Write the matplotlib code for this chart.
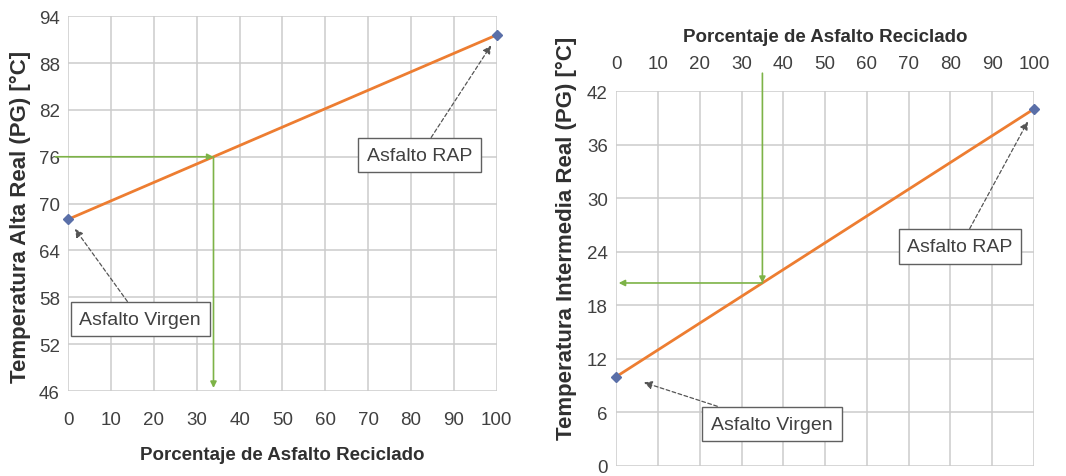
import matplotlib.pyplot as plt

plt.rcParams["font.family"] = ["Liberation Sans Narrow", "Liberation Sans", "DejaVu Sans"]

# left chart: high temperature
pct = [0, 100]
temp_alta = [68.0, 91.6]
alta_ticks = [46, 52, 58, 64, 70, 76, 82, 88, 94]
alta_target = 76
alta_pct = 33.9

# right chart: intermediate temperature
temp_inter = [10.0, 40.0]
inter_ticks = [0, 6, 12, 18, 24, 30, 36, 42]
inter_pct = 35
inter_target = 20.5

x_ticks = list(range(0, 101, 10))

ORANGE = "#ED7D31"
BLUE = "#5A6FA8"
GREEN = "#7DB347"
GRID = "#CCCCCC"
TXT = "#404040"

fig = plt.figure(figsize=(10.66, 4.77), dpi=100)
ax1 = fig.add_axes([0.064, 0.178, 0.402, 0.786])
ax2 = fig.add_axes([0.578, 0.021, 0.392, 0.786])


def style(ax, yticks, xpad):
    ax.set_xlim(0, 100)
    ax.set_ylim(yticks[0], yticks[-1])
    ax.set_xticks(x_ticks)
    ax.set_yticks(yticks)
    ax.grid(True, color=GRID, linewidth=1.1)
    for s in ax.spines.values():
        s.set_visible(False)
    ax.tick_params(length=0, labelsize=13.5, colors=TXT)
    ax.tick_params(axis="y", pad=6)
    ax.tick_params(axis="x", pad=xpad)
    ax.set_axisbelow(True)


box = dict(boxstyle="square,pad=0.45", fc="white", ec="#606060", lw=1)
arr = dict(arrowstyle="-|>", color="#555555", lw=0.9, ls=(0, (3, 2)),
           mutation_scale=12, shrinkA=0, shrinkB=3)
garr = dict(arrowstyle="-|>", color=GREEN, lw=1.2, mutation_scale=9, shrinkA=0, shrinkB=0)
lab = dict(fontweight="bold", color="#303030")

# left
style(ax1, alta_ticks, 14)
ax1.plot(pct, temp_alta, color=ORANGE, lw=2, zorder=3)
ax1.plot(pct, temp_alta, "D", color=BLUE, ms=5, zorder=4, clip_on=False)
ax1.annotate("", xy=(alta_pct, alta_target), xytext=(-3, alta_target),
             arrowprops=garr, annotation_clip=False)
ax1.annotate("", xy=(alta_pct, alta_ticks[0] + 0.4), xytext=(alta_pct, alta_target),
             arrowprops=garr)
ax1.annotate("Asfalto RAP", xy=(99.2, 90.7), xytext=(82, 76.2), ha="center", va="center",
             fontsize=14, color=TXT, bbox=box, arrowprops=arr)
ax1.annotate("Asfalto Virgen", xy=(1, 67.2), xytext=(16.8, 55.2), ha="center", va="center",
             fontsize=14, color=TXT, bbox=box, arrowprops=arr)
ax1.set_xlabel("Porcentaje de Asfalto Reciclado", fontsize=13.5, labelpad=13, **lab)
ax1.set_ylabel("Temperatura Alta Real (PG) [°C]", fontsize=16, **lab)
ax1.yaxis.set_label_coords(-0.086, 0.467)

# right
style(ax2, inter_ticks, 14)
ax2.xaxis.tick_top()
ax2.xaxis.set_label_position("top")
ax2.plot(pct, temp_inter, color=ORANGE, lw=2, zorder=3)
ax2.plot(pct, temp_inter, "D", color=BLUE, ms=5, zorder=4, clip_on=False)
ax2.annotate("", xy=(inter_pct, inter_target), xytext=(inter_pct, 44),
             arrowprops=garr, annotation_clip=False)
ax2.annotate("", xy=(0.6, inter_target), xytext=(inter_pct, inter_target),
             arrowprops=garr)
ax2.annotate("Asfalto RAP", xy=(99, 39), xytext=(82.3, 24.6), ha="center", va="center",
             fontsize=14, color=TXT, bbox=box, arrowprops=arr)
ax2.annotate("Asfalto Virgen", xy=(5.7, 9.5), xytext=(37.3, 4.7), ha="center", va="center",
             fontsize=14, color=TXT, bbox=box, arrowprops=arr)
ax2.set_xlabel("Porcentaje de Asfalto Reciclado", fontsize=13.5, labelpad=10, **lab)
ax2.set_ylabel("Temperatura Intermedia Real (PG) [°C]", fontsize=16, **lab)
ax2.yaxis.set_label_coords(-0.094, 0.61)

fig.savefig("out.png", dpi=100)
